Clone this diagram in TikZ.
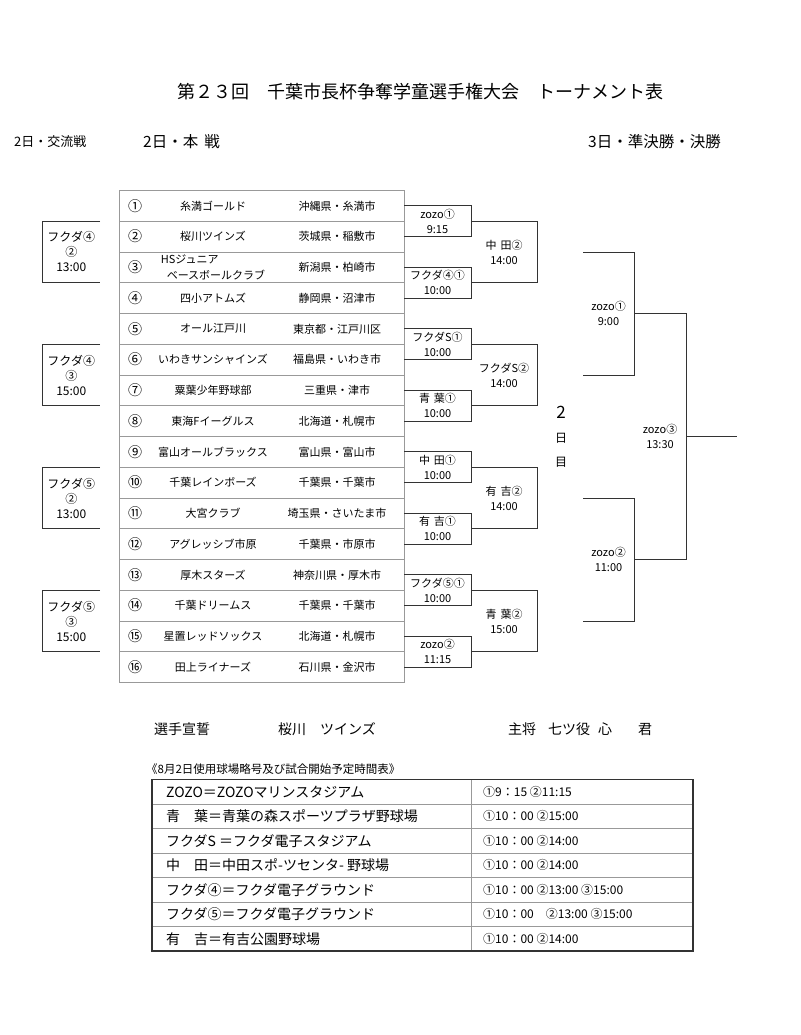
\documentclass[tikz,border=0pt]{standalone}
\usepackage{fontspec}
\setmainfont{Noto Sans CJK JP}
\tikzset{
	tbl/.style={draw=black!40, line width=0.8pt, inner sep=0pt, outer sep=0pt},
	lbl/.style={inner sep=0pt, outer sep=0pt, align=center, font=\fontsize{11}{15}\selectfont},
	bline/.style={draw=black!80, line width=1pt}
}
\begin{document}
\begin{tikzpicture}[x=1pt,y=-1pt]
	\useasboundingbox (0,0) rectangle (800,1035);
	% heading
	\node (title) at (420,92) {\fontsize{18}{18}\selectfont 第２３回　千葉市長杯争奪学童選手権大会　トーナメント表};
	\begin{scope}[every node/.style={anchor=west, inner sep=0pt}]
		\node (hx) at (14,142) {\fontsize{13}{13}\selectfont 2日・交流戦};
		\node (hm) at (143,142) {\fontsize{15.5}{15.5}\selectfont 2日・本\hspace{6pt}戦};
		\node (hf) at (588,142) {\fontsize{15.5}{15.5}\selectfont 3日・準決勝・決勝};
	\end{scope}
	% team table
	\begin{scope}[every node/.style={inner sep=0pt, font=\fontsize{11}{15.5}\selectfont}]
		\foreach \i/\tnum/\tname/\tpref in {
			1/①/糸満ゴールド/沖縄県・糸満市,
			2/②/桜川ツインズ/茨城県・稲敷市,
			3/③/{HSジュニア\\\hspace*{6pt}ベースボールクラブ}/新潟県・柏崎市,
			4/④/四小アトムズ/静岡県・沼津市,
			5/⑤/オール江戸川/東京都・江戸川区,
			6/⑥/いわきサンシャインズ/福島県・いわき市,
			7/⑦/粟葉少年野球部/三重県・津市,
			8/⑧/東海Fイーグルス/北海道・札幌市,
			9/⑨/富山オールブラックス/富山県・富山市,
			10/⑩/千葉レインボーズ/千葉県・千葉市,
			11/⑪/大宮クラブ/埼玉県・さいたま市,
			12/⑫/アグレッシブ市原/千葉県・市原市,
			13/⑬/厚木スターズ/神奈川県・厚木市,
			14/⑭/千葉ドリームス/千葉県・千葉市,
			15/⑮/星置レッドソックス/北海道・札幌市,
			16/⑯/田上ライナーズ/石川県・金沢市}{
			\pgfmathsetmacro\ty{190.5+(\i-0.5)*30.75}
			\node (t\i)[tbl, minimum width=284.5pt, minimum height=30.75pt] at (261.75,\ty) {};
			\node (n\i)[font=\fontsize{14}{14}\selectfont] at (135,\ty) {\tnum};
			\node (tn\i)[align=left] at (213,\ty) {\tname};
			\node (tp\i) at (337,\ty) {\tpref};
		}
	\end{scope}
	% exchange games
	\begin{scope}[every node/.style={lbl, font=\fontsize{12}{15}\selectfont, minimum width=57.5pt, minimum height=61.5pt}]
		\node (x1) at (71.25,252) {フクダ④\\②\\13:00};
		\node (x2) at (71.25,375) {フクダ④\\③\\15:00};
		\node (x3) at (71.25,498) {フクダ⑤\\②\\13:00};
		\node (x4) at (71.25,621) {フクダ⑤\\③\\15:00};
	\end{scope}
	% first round
	\begin{scope}[every node/.style={lbl, minimum width=67pt, minimum height=30.75pt}]
		\node (m1) at (437.5,221.25) {zozo①\\9:15};
		\node (m2) at (437.5,282.75) {フクダ④①\\10:00};
		\node (m3) at (437.5,344.25) {フクダS①\\10:00};
		\node (m4) at (437.5,405.75) {青\hspace{4pt}葉①\\10:00};
		\node (m5) at (437.5,467.25) {中\hspace{4pt}田①\\10:00};
		\node (m6) at (437.5,528.75) {有\hspace{4pt}吉①\\10:00};
		\node (m7) at (437.5,590.25) {フクダ⑤①\\10:00};
		\node (m8) at (437.5,651.75) {zozo②\\11:15};
	\end{scope}
	% second round
	\begin{scope}[every node/.style={lbl, minimum width=66pt, minimum height=61.5pt}]
		\node (q1) at (504,252) {中\hspace{4pt}田②\\14:00};
		\node (q2) at (504,375) {フクダS②\\14:00};
		\node (q3) at (504,498) {有\hspace{4pt}吉②\\14:00};
		\node (q4) at (504,621) {青\hspace{4pt}葉②\\15:00};
	\end{scope}
	% semifinal, final
	\node (s1)[lbl, minimum width=51pt, minimum height=123pt] at (608.5,313.5) {zozo①\\9:00};
	\node (s2)[lbl, minimum width=51pt, minimum height=123pt] at (608.5,559.5) {zozo②\\11:00};
	\node (f)[lbl, minimum width=52pt, minimum height=246pt] at (660,436.5) {zozo③\\13:30};
	\coordinate (champ) at (737,436.5);
	\node (day)[align=center, inner sep=0pt, font=\fontsize{12}{24}\selectfont] at (561,437) {{\fontsize{17}{24}\selectfont 2}\\日\\目};
	% brackets
	\begin{scope}[every path/.style={bline}]
		\foreach \b in {m1,m2,m3,m4,m5,m6,m7,m8,q1,q2,q3,q4,s1,s2,f}
			\draw (\b.north west) -| (\b.south east) -- (\b.south west);
		\foreach \b in {x1,x2,x3,x4}
			\draw (\b.north east) -| (\b.south west) -- (\b.south east);
		\draw (f.east) -- (champ);
	\end{scope}
	% oath
	\begin{scope}[every node/.style={anchor=west, inner sep=0pt, font=\fontsize{14}{14}\selectfont}]
		\node (oath) at (154,729) {選手宣誓};
		\node (oteam) at (278,729) {桜川　ツインズ};
		\node (ocap) at (508,729) {主将\hspace{12pt}七ツ役\hspace{8pt}心\hspace{26pt}君};
		\node (sched)[font=\fontsize{11.5}{11.5}\selectfont] at (146,769) {《8月2日使用球場略号及び試合開始予定時間表》};
	\end{scope}
	% schedule table
	\foreach \j/\place/\time in {
		1/ZOZO＝ZOZOマリンスタジアム/①9：15 ②11:15,
		2/青　葉＝青葉の森スポーツプラザ野球場/①10：00 ②15:00,
		3/フクダS ＝フクダ電子スタジアム/①10：00 ②14:00,
		4/中　田＝中田スポ-ツセンタ- 野球場/①10：00 ②14:00,
		5/フクダ④＝フクダ電子グラウンド/①10：00 ②13:00 ③15:00,
		6/フクダ⑤＝フクダ電子グラウンド/①10：00　②13:00 ③15:00,
		7/有　吉＝有吉公園野球場/①10：00 ②14:00}{
		\pgfmathsetmacro\sy{779.5+(\j-0.5)*24.5}
		\node (g\j)[tbl, minimum width=319pt, minimum height=24.5pt] at (311.5,\sy) {};
		\node (k\j)[tbl, minimum width=222pt, minimum height=24.5pt] at (582,\sy) {};
		\node (p\j)[anchor=west, inner sep=0pt, font=\fontsize{14}{14}\selectfont] at (166,\sy) {\place};
		\node (h\j)[anchor=west, inner sep=0pt, font=\fontsize{12}{12}\selectfont] at (483,\sy) {\time};
	}
	\draw[draw=black!80, line width=1.3pt] (g1.north west) rectangle (k7.south east);
\end{tikzpicture}
\end{document}
